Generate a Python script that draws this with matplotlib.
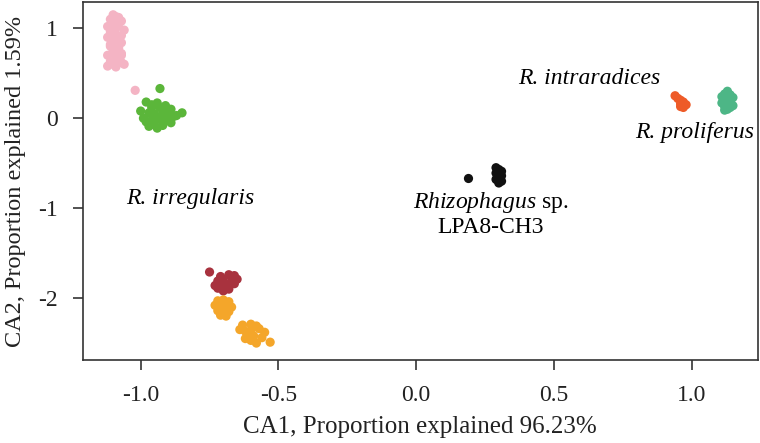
"""CA ordination of Rhizophagus isolates"""
import matplotlib
matplotlib.use("Agg")
import matplotlib.pyplot as plt

plt.rcParams['font.family'] = ['Liberation Serif', 'DejaVu Serif']
plt.rcParams['mathtext.fontset'] = 'custom'
plt.rcParams['mathtext.rm'] = 'Liberation Serif'
plt.rcParams['mathtext.it'] = 'Liberation Serif:italic'
plt.rcParams['axes.unicode_minus'] = False

# pink cluster (R. irregularis, upper)
pink_x = [-1.10, -1.08, -1.11, -1.07, -1.10, -1.12, -1.09, -1.06, -1.11, -1.09,
          -1.07, -1.12, -1.09, -1.10, -1.07, -1.11, -1.08, -1.10, -1.07, -1.12,
          -1.09, -1.08, -1.11, -1.07, -1.10, -1.09, -1.12, -1.06, -1.10, -1.08,
          -1.11, -1.07, -1.09, -1.02]
pink_y = [1.15, 1.12, 1.10, 1.08, 1.05, 1.02, 1.00, 0.98, 0.96, 0.93,
          0.92, 0.90, 0.88, 0.85, 0.84, 0.80, 0.78, 0.75, 0.72, 0.70,
          0.68, 0.66, 0.63, 0.62, 0.60, 0.57, 0.58, 0.60, 0.93, 1.05,
          0.82, 0.70, 1.13, 0.31]

green_x = [-0.93, -0.98, -0.96, -0.94, -0.91, -0.89, -1.00, -0.97, -0.95, -0.92,
           -0.90, -0.88, -0.99, -0.96, -0.93, -0.91, -0.89, -0.95, -0.97, -0.92,
           -0.94, -0.85, -0.90, -0.96, -0.93, -0.98, -0.91, -0.94, -0.87]
green_y = [0.33, 0.18, 0.15, 0.17, 0.14, 0.10, 0.08, 0.06, 0.05, 0.07,
           0.04, 0.02, 0.00, -0.02, 0.00, -0.03, -0.05, -0.07, -0.09, -0.08,
           -0.11, 0.06, 0.10, 0.12, 0.12, -0.04, 0.01, -0.01, 0.03]

darkred_x = [-0.75, -0.71, -0.68, -0.66, -0.72, -0.70, -0.67, -0.65,
             -0.73, -0.71, -0.69, -0.68, -0.70, -0.72, -0.66]
darkred_y = [-1.71, -1.76, -1.74, -1.75, -1.81, -1.80, -1.82, -1.79,
             -1.86, -1.87, -1.85, -1.90, -1.92, -1.89, -1.84]

orange_x = [-0.72, -0.70, -0.68, -0.73, -0.71, -0.69, -0.67, -0.72, -0.70, -0.68,
            -0.71, -0.69, -0.63, -0.60, -0.58, -0.64, -0.62, -0.60, -0.57, -0.55,
            -0.61, -0.59, -0.56, -0.53, -0.60, -0.58, -0.62]
orange_y = [-2.03, -2.02, -2.04, -2.08, -2.09, -2.07, -2.10, -2.14, -2.13, -2.15,
            -2.19, -2.20, -2.30, -2.29, -2.31, -2.35, -2.37, -2.36, -2.34, -2.38,
            -2.41, -2.42, -2.44, -2.49, -2.47, -2.50, -2.45]

black_x = [0.19, 0.29, 0.30, 0.31, 0.29, 0.30, 0.31, 0.30, 0.29, 0.31, 0.30]
black_y = [-0.67, -0.55, -0.57, -0.59, -0.61, -0.62, -0.64, -0.66, -0.68, -0.70, -0.72]

intra_x = [0.94, 0.95, 0.96, 0.97, 0.96, 0.97, 0.98, 0.97, 0.96]
intra_y = [0.25, 0.22, 0.20, 0.18, 0.16, 0.14, 0.15, 0.12, 0.13]

prol_x = [1.13, 1.12, 1.14, 1.11, 1.13, 1.15, 1.12, 1.14, 1.11, 1.13,
          1.15, 1.12, 1.14, 1.13, 1.12, 1.14]
prol_y = [0.30, 0.27, 0.26, 0.24, 0.22, 0.23, 0.20, 0.19, 0.17, 0.16,
          0.14, 0.13, 0.12, 0.10, 0.09, 0.21]

x_ticks = [-1.0, -0.5, 0.0, 0.5, 1.0]
y_ticks = [-2, -1, 0, 1]

fig = plt.figure(figsize=(7.6, 4.43), dpi=100)
ax = fig.add_axes([0.109, 0.187, 0.888, 0.808])

groups = [
    (pink_x, pink_y, '#F4B4C4'),
    (green_x, green_y, '#5BB63A'),
    (darkred_x, darkred_y, '#A8323E'),
    (orange_x, orange_y, '#F4A62A'),
    (black_x, black_y, '#111111'),
    (intra_x, intra_y, '#EE5B28'),
    (prol_x, prol_y, '#4DB686'),
]
for gx, gy, col in groups:
    ax.scatter(gx, gy, s=44, color=col, edgecolors='none')

ax.set_xlim(-1.21, 1.24)
ax.set_ylim(-2.69, 1.29)
ax.set_xticks(x_ticks)
ax.set_xticklabels(['%.1f' % v for v in x_ticks])
ax.set_yticks(y_ticks)
ax.tick_params(direction='out', length=7, width=1.2, colors='#333333',
               labelsize=17, labelcolor='#222222', pad=11)
for sp in ax.spines.values():
    sp.set_color('#333333')
    sp.set_linewidth(1.2)

ax.set_xlabel('CA1, Proportion explained 96.23%', fontsize=18, color='#222222', labelpad=7)
ax.set_ylabel('CA2, Proportion explained 1.59%', fontsize=17.5, color='#222222', labelpad=9)

ax.text(0.63, 0.44, 'R. intraradices', style='italic', fontsize=17, ha='center', va='center')
ax.text(1.01, -0.16, 'R. proliferus', style='italic', fontsize=17, ha='center', va='center')
ax.text(-0.82, -0.89, 'R. irregularis', style='italic', fontsize=17, ha='center', va='center')
ax.text(0.27, -0.94, r'$\mathit{Rhizophagus}$ sp.', fontsize=17, ha='center', va='center')
ax.text(0.27, -1.22, 'LPA8-CH3', fontsize=17, ha='center', va='center')

fig.savefig('out.png', dpi=100)
